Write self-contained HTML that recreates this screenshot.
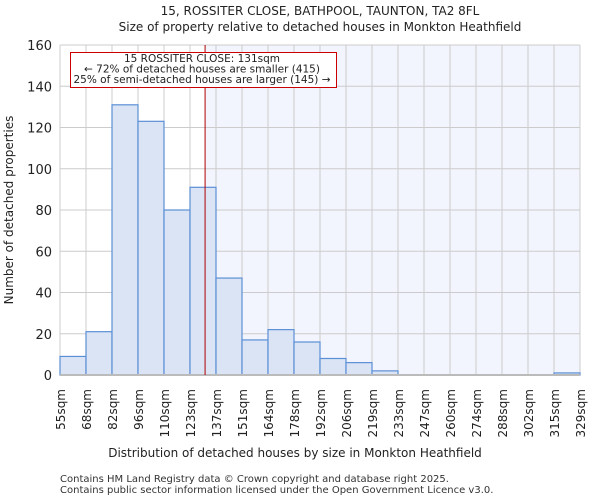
<!DOCTYPE html>
<html><head><meta charset="utf-8"><style>
body{margin:0;background:#fff}
svg{font-family:"DejaVu Sans","Liberation Sans",sans-serif;display:block}
</style></head><body>
<svg id="chart" width="600" height="500">
<text x="320" y="15" text-anchor="middle" font-size="12" fill="#222">15, ROSSITER CLOSE, BATHPOOL, TAUNTON, TA2 8FL</text>
<text x="320" y="31" text-anchor="middle" font-size="12" fill="#222">Size of property relative to detached houses in Monkton Heathfield</text>
<g id="plot"></g>
<text x="295" y="457" text-anchor="middle" font-size="12" fill="#222">Distribution of detached houses by size in Monkton Heathfield</text>
<text transform="translate(13,210) rotate(-90)" text-anchor="middle" font-size="12" fill="#222">Number of detached properties</text>
<text x="60" y="482" font-size="10" fill="#333">Contains HM Land Registry data © Crown copyright and database right 2025.</text>
<text x="60" y="493" font-size="10" fill="#333">Contains public sector information licensed under the Open Government Licence v3.0.</text>
</svg>
<script>
const binLabels=["55sqm","68sqm","82sqm","96sqm","110sqm","123sqm","137sqm","151sqm","164sqm","178sqm","192sqm","206sqm","219sqm","233sqm","247sqm","260sqm","274sqm","288sqm","302sqm","315sqm","329sqm"];
const counts=[9,21,131,123,80,91,47,17,22,16,8,6,2,0,0,0,0,0,0,1];
const yTicks=[0,20,40,60,80,100,120,140,160];
const markerBin=5.58;
const NS="http://www.w3.org/2000/svg";
const X0=60,X1=580,Y0=375,Y1=45,YMAX=160;
const bw=(X1-X0)/counts.length;
const xs=i=>X0+i*bw;
const ys=v=>Y0-(v/YMAX)*(Y0-Y1);
const g=document.getElementById('plot');
function mk(t,a){const e=document.createElementNS(NS,t);for(const k in a)e.setAttribute(k,a[k]);g.appendChild(e);return e;}
const mx=xs(markerBin);
let e=mk('rect',{x:mx,y:Y1,width:X1-mx,height:Y0-Y1,fill:'#f2f5fd'});


yTicks.forEach(t=>{
 let l=mk('line',{x1:X0,x2:X1,y1:ys(t),y2:ys(t),stroke:'#cccccc','stroke-width':1});
 
 
 let tx=mk('text',{x:X0-8,y:ys(t)+5,'text-anchor':'end','font-size':13,fill:'#222'});
 tx.textContent=t;
 
 
});
binLabels.forEach((s,i)=>{
 let l=mk('line',{x1:xs(i),x2:xs(i),y1:Y1,y2:Y0,stroke:'#cccccc','stroke-width':1});
 
 
 let tx=mk('text',{transform:`translate(${xs(i)+5},389) rotate(-90)`,'text-anchor':'end','font-size':12,fill:'#222'});
 tx.textContent=s;
 
 
});
counts.forEach((c,i)=>{
 let r=mk('rect',{x:xs(i),y:ys(c),width:bw,height:Y0-ys(c),fill:'#dae4f5',stroke:'#5b8fd6','stroke-width':1.2});
 
 
});
let ax=mk('line',{x1:X0,x2:X1,y1:Y0,y2:Y0,stroke:'#bbbbbb','stroke-width':2});


let ml=mk('line',{x1:mx,x2:mx,y1:Y1,y2:Y0,stroke:'#b00000','stroke-width':1});


let box=mk('rect',{x:70.5,y:52.5,width:266,height:35,fill:'#fff',stroke:'#cc0000','stroke-width':1});


["15 ROSSITER CLOSE: 131sqm","← 72% of detached houses are smaller (415)","25% of semi-detached houses are larger (145) →"].forEach((s,i)=>{
 let t=mk('text',{x:202,y:62+i*10.5,'text-anchor':'middle','font-size':10.5,fill:'#222'});
 t.textContent=s;
 
 
});
</script>
</body></html>
